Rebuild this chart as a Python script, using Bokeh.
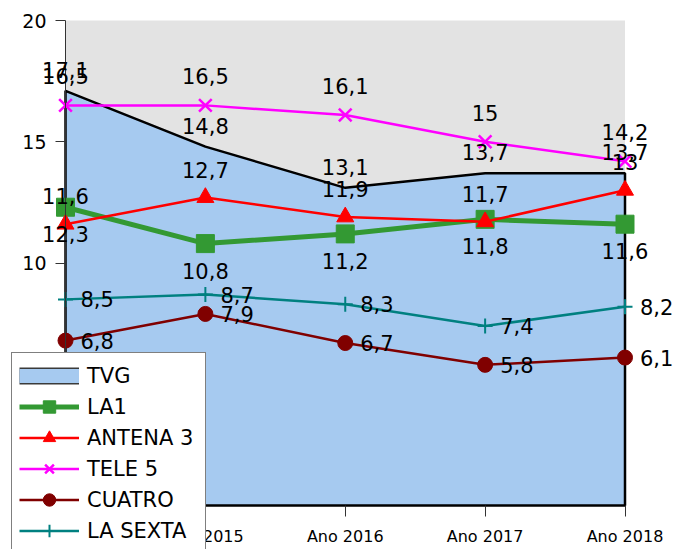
from bokeh.plotting import figure
from bokeh.models import (ColumnDataSource, LabelSet, Legend, LegendItem,
                          Range1d, FixedTicker, LinearAxis, BoxAnnotation)
from bokeh.core.properties import value
from bokeh.embed import file_html
from bokeh.resources import INLINE

categories = ["Ano 2014", "Ano 2015", "Ano 2016", "Ano 2017", "Ano 2018"]
tvg = [17.1, 14.8, 13.1, 13.7, 13.7]
la1 = [12.3, 10.8, 11.2, 11.8, 11.6]
antena3 = [11.6, 12.7, 11.9, 11.7, 13.0]
tele5 = [16.5, 16.5, 16.1, 15.0, 14.2]
cuatro = [6.8, 7.9, 6.7, 5.8, 6.1]
lasexta = [8.5, 8.7, 8.3, 7.4, 8.2]
y_ticks = [0, 5, 10, 15, 20]

FONT = "DejaVu Sans"
BLUE = "#a6caf0"
GRAY = "#e3e3e3"
GREEN = "#339933"
RED = "#ff0000"
MAGENTA = "#ff00ff"
DARKRED = "#800000"
TEAL = "#008080"

xs = list(range(len(categories)))

# canvas geometry (pixels) used to place the plotting area inside the canvas
W, H = 673, 549
PLOT_LEFT, PLOT_RIGHT = 65, 624.5     # canvas px of first / last category
PLOT_TOP, PLOT_BOTTOM = 20, 505       # canvas px of top / bottom of value axis

x0, x1 = xs[0], xs[-1]
y0, y1 = y_ticks[0], y_ticks[-1]
xscale = (PLOT_RIGHT - PLOT_LEFT) / (x1 - x0)
yscale = (PLOT_BOTTOM - PLOT_TOP) / (y1 - y0)
x_range = Range1d(x0 - PLOT_LEFT / xscale, x1 + (W - PLOT_RIGHT) / xscale)
y_range = Range1d(y0 - (H - PLOT_BOTTOM) / yscale, y1 + PLOT_TOP / yscale)


def fmt(v):
    return f"{v:g}".replace(".", ",")


def src(vals):
    return ColumnDataSource(dict(x=xs, y=vals, t=[fmt(v) for v in vals]))


p = figure(width=W, height=H, output_backend="svg", toolbar_location=None,
           x_range=x_range, y_range=y_range,
           x_axis_location=None, y_axis_location=None,
           min_border=0, min_border_left=0, min_border_right=0,
           min_border_top=0, min_border_bottom=0)
p.background_fill_color = "white"
p.border_fill_color = "white"
p.outline_line_color = None
p.grid.visible = False

# grey plot area
p.add_layout(BoxAnnotation(left=x0, right=x1, bottom=y0, top=y1,
                           fill_color=GRAY, fill_alpha=1.0, line_color=None,
                           level="underlay"))

# TVG area
patch_x = xs + xs[::-1]
patch_y = tvg + [y0] * len(xs)
p.patch(patch_x, patch_y, fill_color=BLUE, line_color="black", line_width=2.5)

s_tvg = src(tvg)
s_la1 = src(la1)
s_a3 = src(antena3)
s_t5 = src(tele5)
s_c4 = src(cuatro)
s_ls = src(lasexta)

r_la1_l = p.line("x", "y", source=s_la1, line_color=GREEN, line_width=5)
r_la1_m = p.scatter("x", "y", source=s_la1, marker="square", size=18,
                    fill_color=GREEN, line_color=GREEN)
r_a3_l = p.line("x", "y", source=s_a3, line_color=RED, line_width=2.5)
r_a3_m = p.scatter("x", "y", source=s_a3, marker="triangle", size=17,
                   fill_color=RED, line_color=RED)
r_t5_l = p.line("x", "y", source=s_t5, line_color=MAGENTA, line_width=2.5)
r_t5_m = p.scatter("x", "y", source=s_t5, marker="x", size=18,
                   line_color=MAGENTA, line_width=2.5)
r_c4_l = p.line("x", "y", source=s_c4, line_color=DARKRED, line_width=2.5)
r_c4_m = p.scatter("x", "y", source=s_c4, marker="circle", size=15,
                   fill_color=DARKRED, line_color=DARKRED)
r_ls_l = p.line("x", "y", source=s_ls, line_color=TEAL, line_width=2.5)
r_ls_m = p.scatter("x", "y", source=s_ls, marker="cross", size=15,
                   line_color=TEAL, line_width=2)

# axes (drawn at the value 0 / first category, inside the canvas)
yax = LinearAxis(fixed_location=x0, bounds=(y0, y1),
                 ticker=FixedTicker(ticks=y_ticks))
yax.major_tick_out = 10
yax.major_tick_in = 0
yax.minor_tick_line_color = None
yax.major_label_standoff = 9
yax.major_label_text_font = FONT
yax.major_label_text_font_size = "19px"
yax.major_label_text_color = "black"
yax.axis_line_color = "#333333"
yax.major_tick_line_color = "#333333"
p.add_layout(yax, "left")

xax = LinearAxis(fixed_location=y0, bounds=(x0, x1),
                 ticker=FixedTicker(ticks=xs))
xax.major_label_overrides = {i: c for i, c in zip(xs, categories)}
xax.major_tick_out = 11
xax.major_tick_in = 0
xax.minor_tick_line_color = None
xax.major_label_standoff = 10
xax.major_label_text_font = FONT
xax.major_label_text_font_size = "16px"
xax.major_label_text_color = "black"
xax.axis_line_color = "black"
xax.major_tick_line_color = "#333333"
p.add_layout(xax, "below")

# data labels
lab_kw = dict(x="x", y="y", text="t", text_font=value(FONT),
              text_font_size="21px", text_color="black",
              text_baseline="middle")
p.add_layout(LabelSet(source=s_tvg, text_align="center", y_offset=21, **lab_kw))
p.add_layout(LabelSet(source=s_la1, text_align="center", y_offset=-27, **lab_kw))
p.add_layout(LabelSet(source=s_a3, text_align="center", y_offset=28, **lab_kw))
p.add_layout(LabelSet(source=s_t5, text_align="center", y_offset=29, **lab_kw))
p.add_layout(LabelSet(source=s_c4, text_align="left", x_offset=15, y_offset=0, **lab_kw))
p.add_layout(LabelSet(source=s_ls, text_align="left", x_offset=15, y_offset=0, **lab_kw))

# legend swatch for the TVG area
nan = float("nan")
tvg_border = p.line([nan], [nan], line_width=17, line_color="#3a3a3a")
tvg_fill = p.line([nan], [nan], line_width=14, line_color=BLUE)

legend = Legend(items=[
    LegendItem(label="TVG", renderers=[tvg_border, tvg_fill]),
    LegendItem(label="LA1", renderers=[r_la1_l, r_la1_m]),
    LegendItem(label="ANTENA 3", renderers=[r_a3_l, r_a3_m]),
    LegendItem(label="TELE 5", renderers=[r_t5_l, r_t5_m]),
    LegendItem(label="CUATRO", renderers=[r_c4_l, r_c4_m]),
    LegendItem(label="LA SEXTA", renderers=[r_ls_l, r_ls_m]),
], location=(11, -5), margin=0, padding=7, spacing=0,
    glyph_width=60, glyph_height=31, label_height=31, label_width=111,
    label_standoff=8, label_text_font=FONT, label_text_font_size="21px",
    label_text_color="black", border_line_color="black", border_line_width=1,
    background_fill_color="white", background_fill_alpha=1.0)
p.add_layout(legend)

open("out.html", "w").write(file_html(p, INLINE))
